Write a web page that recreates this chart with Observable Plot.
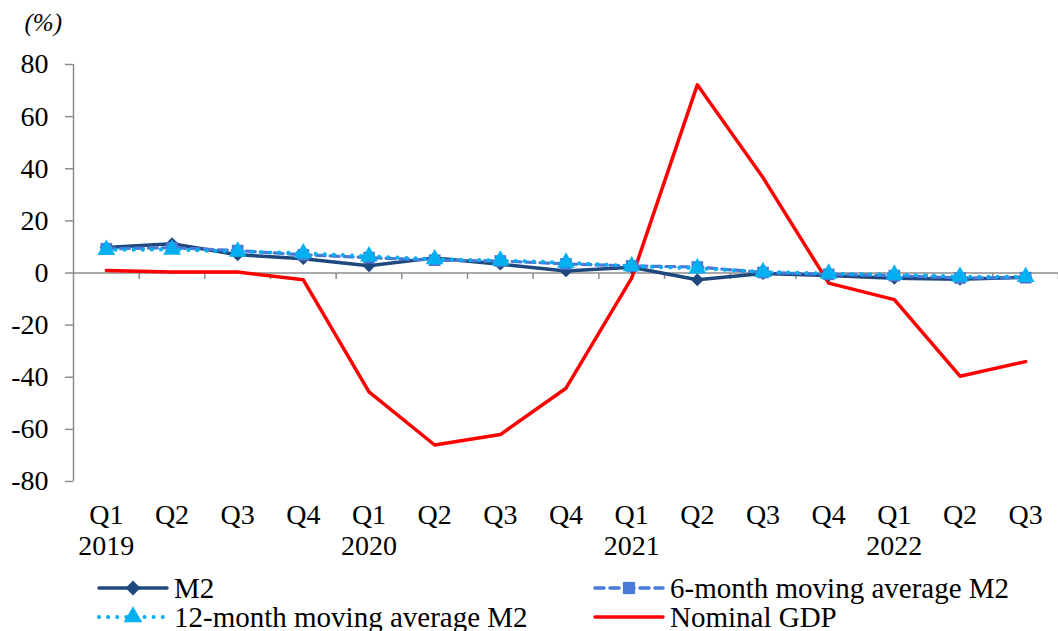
<!DOCTYPE html>
<html>
<head>
<meta charset="utf-8">
<script src="https://cdn.jsdelivr.net/npm/d3@7"></script>
<script src="https://cdn.jsdelivr.net/npm/@observablehq/plot@0.6"></script>
<style>
  html, body { margin: 0; padding: 0; background: #fff; font-family: 'Liberation Serif', serif; }
  #wrap { position: relative; width: 1058px; height: 631px; }
  #legend { position: relative; width: 1058px; height: 66px; font-size: 29px; line-height: 28px; color: #000; font-family: 'Liberation Serif', serif; }
  .item { position: absolute; display: flex; align-items: center; height: 28px; white-space: nowrap; }
  .item svg { display: block; margin-right: 5px; }
</style>
</head>
<body>
<div id="wrap">
  <div id="chart"></div>
  <div id="legend"></div>
</div>
<script>
// Quarterly growth rates (%), Q1 2019 – Q3 2022
const quarters = ["Q1","Q2","Q3","Q4","Q1","Q2","Q3","Q4","Q1","Q2","Q3","Q4","Q1","Q2","Q3"];
const years    = ["2019","","","","2020","","","","2021","","","","2022","",""];
const m2       = [9.8, 11.2, 7.0, 5.5, 2.8, 5.8, 3.4, 0.8, 2.2, -2.6, -0.2, -1.0, -2.0, -2.4, -1.6];
const m2Avg6   = [9.3, 9.7, 8.6, 7.0, 5.9, 4.9, 4.6, 3.5, 2.7, 2.3, 0.2, -0.5, -1.0, -1.9, -1.8];
const m2Avg12  = [8.9, 9.0, 8.2, 7.6, 6.4, 5.3, 4.8, 4.0, 2.6, 1.8, 0.4, -0.2, -0.6, -1.4, -1.5];
const gdp      = [1.0, 0.4, 0.4, -2.6, -45.6, -66.0, -62.0, -44.2, -2.0, 72.2, 36.6, -3.9, -10.2, -39.6, -34.0];
const yTicks   = [-80, -60, -40, -20, 0, 20, 40, 60, 80];

const seriesNames = ["M2", "6-month moving average M2", "12-month moving average M2", "Nominal GDP"];
const colors = {
  m2: "#1F497D",
  avg6: "#4A7AD8",
  avg12: "#00B0F0",
  gdp: "#FF0000",
  axis: "#8C8C8C"
};
const font = "Liberation Serif";

const idx = d3.range(quarters.length);
const xDomain = [-0.5, quarters.length - 0.5];
const boundaries = d3.range(quarters.length).map(i => i + 0.5);

const rows = (values) => idx.map(i => ({i, v: values[i]}));

// short downward stroke used as a category-boundary tick on the zero line
const tickDown = {draw(ctx, size) { ctx.moveTo(0, 0); ctx.lineTo(0, Math.sqrt(size)); }};

const chart = Plot.plot({
  width: 1058,
  height: 565,
  marginTop: 64,
  marginBottom: 84,
  marginLeft: 73,
  marginRight: 0,
  style: {fontFamily: font, fontSize: "28px", color: "#000", background: "#fff"},
  x: {domain: xDomain, axis: null},
  y: {domain: [-80, 80], axis: null},
  marks: [
    // zero baseline with band-boundary ticks
    Plot.ruleY([0], {stroke: colors.axis, strokeWidth: 1.5}),
    Plot.dot(boundaries, {x: d => d, y: 0, symbol: tickDown, r: 3.4, stroke: colors.axis, strokeWidth: 1.5, fill: "none"}),
    // vertical axis line and ticks
    Plot.ruleX([xDomain[0]], {stroke: colors.axis, strokeWidth: 1.5}),
    Plot.axisY({ticks: yTicks, label: null, tickFormat: d => String(d), tickSize: 8, tickPadding: 17, stroke: colors.axis, strokeWidth: 1.5, fill: "#000", fontSize: 28, fontFamily: font}),
    // category labels
    Plot.text(idx, {x: d => d, text: d => quarters[d], frameAnchor: "bottom", dy: 34, lineAnchor: "middle", fill: "#000", fontSize: 28, fontFamily: font}),
    Plot.text(idx, {x: d => d, text: d => years[d], frameAnchor: "bottom", dy: 65, lineAnchor: "middle", fill: "#000", fontSize: 28, fontFamily: font}),
    Plot.text(["(%)"], {frameAnchor: "top-left", dx: -49, dy: -42, lineAnchor: "middle", fontStyle: "italic", fill: "#000", fontSize: 25, fontFamily: font}),
    // nominal GDP
    Plot.line(rows(gdp), {x: "i", y: "v", stroke: colors.gdp, strokeWidth: 3.5}),
    // M2
    Plot.line(rows(m2), {x: "i", y: "v", stroke: colors.m2, strokeWidth: 3.5}),
    Plot.dot(rows(m2), {x: "i", y: "v", symbol: "diamond2", r: 5.8, fill: colors.m2, stroke: "none"}),
    // 6-month moving average
    Plot.line(rows(m2Avg6), {x: "i", y: "v", stroke: colors.avg6, strokeWidth: 3.2, strokeDasharray: "9,5"}),
    Plot.dot(rows(m2Avg6), {x: "i", y: "v", symbol: "square", r: 6.6, fill: colors.avg6, stroke: "none"}),
    // 12-month moving average
    Plot.line(rows(m2Avg12), {x: "i", y: "v", stroke: colors.avg12, strokeWidth: 4, strokeDasharray: "0.1,9", strokeLinecap: "round"}),
    Plot.dot(rows(m2Avg12), {x: "i", y: "v", symbol: "triangle", r: 6.6, fill: colors.avg12, stroke: "none"})
  ]
});
document.getElementById("chart").appendChild(chart);

// Legend
const legendItems = [
  {name: seriesNames[0], color: colors.m2, width: 3.5, dash: null, cap: "round", symbol: d3.symbolDiamond2, size: 140, left: 97, top: 9},
  {name: seriesNames[1], color: colors.avg6, width: 3.5, dash: "9,6", cap: "round", symbol: d3.symbolSquare, size: 150, left: 593, top: 9},
  {name: seriesNames[2], color: colors.avg12, width: 4, dash: "0.1,9", cap: "round", symbol: d3.symbolTriangle, size: 150, left: 97, top: 38},
  {name: seriesNames[3], color: colors.gdp, width: 3.5, dash: null, cap: "round", symbol: null, size: 0, left: 593, top: 38}
];
const legend = d3.select("#legend");
for (const it of legendItems) {
  const item = legend.append("div").attr("class", "item").style("left", it.left + "px").style("top", it.top + "px");
  const sw = item.append("svg").attr("width", 72).attr("height", 28);
  sw.append("line").attr("x1", 2).attr("x2", 70).attr("y1", 14).attr("y2", 14)
    .attr("stroke", it.color).attr("stroke-width", it.width)
    .attr("stroke-dasharray", it.dash).attr("stroke-linecap", it.cap);
  if (it.symbol) {
    sw.append("path").attr("transform", "translate(36,14)")
      .attr("d", d3.symbol(it.symbol, it.size)()).attr("fill", it.color);
  }
  item.append("span").style("font-family", font).text(it.name);
}
</script>
</body>
</html>
